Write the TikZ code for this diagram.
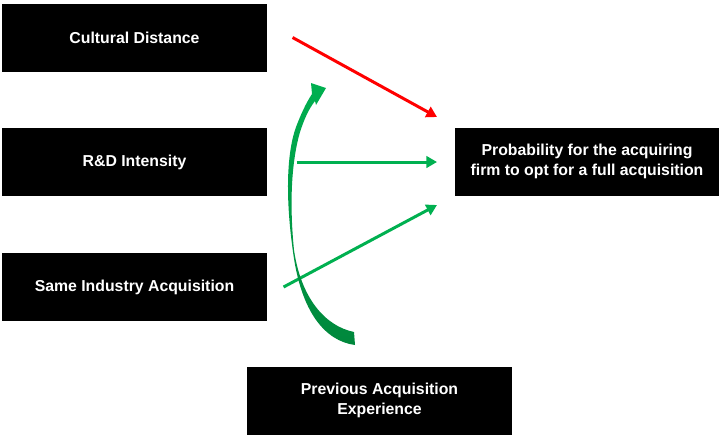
\documentclass[tikz,border=0pt]{standalone}
\usepackage{fontspec}
\setmainfont{Liberation Sans}
\usepackage{xcolor}
\usetikzlibrary{arrows.meta, positioning}
\definecolor{arrowgreen}{RGB}{0,176,80}
\definecolor{darkgreen}{RGB}{0,135,60}

\begin{document}
\begin{tikzpicture}[x=0.02cm, y=-0.02cm,
    box/.style={rectangle, draw=black, fill=black, text=white,
                minimum width=5.27cm, minimum height=1.34cm, align=center,
                font=\fontsize{9}{11.3}\selectfont\bfseries, inner sep=0pt},
    link/.style={-{Triangle[length=6pt, width=6.5pt]}, line width=1.7pt}
]
\useasboundingbox (0,0) rectangle (719,434);
\node[box] (cult) at (134.5,37.5) {Cultural Distance};
\node[box] (rd) at (134.5,162) {R\&D Intensity};
\node[box] (same) at (134.5,287) {Same Industry Acquisition};
\node[box] (prob) at (587,161.5) {Probability for the acquiring\\firm to opt for a full acquisition};
\node[box] (prev) at (379.5,400.5) {Previous Acquisition\\Experience};
\coordinate (cultend) at (437,117);
\coordinate (rdend) at (437,162);
\coordinate (sameend) at (437,205);
\draw[link, red] ([shift={(26,0)}]cult.east) -- (cultend);
\draw[link, arrowgreen] ([shift={(30,0)}]rd.east) -- (rdend);
\draw[link, arrowgreen] ([shift={(17,0)}]same.east) -- (sameend);
% curved moderator arrow
\shade[top color=arrowgreen, middle color=arrowgreen!35, bottom color=darkgreen]
  (355,345) .. controls (325,341) and (301,312) .. (293,252)
  .. controls (285,195) and (287,152) .. (296,127)
  .. controls (301,114) and (306,103) .. (312,94)
  -- (311,83) -- (326,88) -- (316,105) -- (315,101)
  .. controls (308,110) and (304,120) .. (300,132)
  .. controls (292,160) and (289,200) .. (294,250)
  .. controls (301,298) and (325,326) .. (354,332) -- cycle;
\end{tikzpicture}
\end{document}
